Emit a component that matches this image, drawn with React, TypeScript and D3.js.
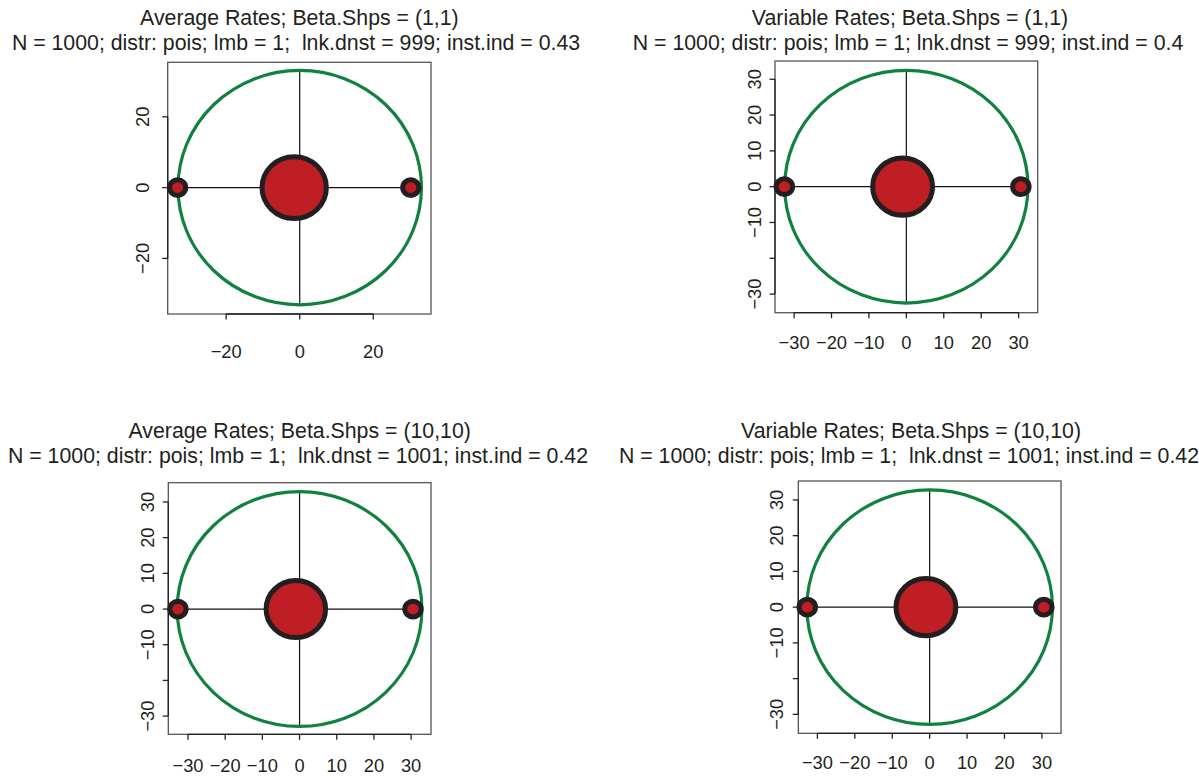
import React, { useEffect, useRef } from 'react'
import * as d3 from 'd3'

// chart values, one entry per panel (TL, TR, BL, BR)
const titles = [
  'Average Rates; Beta.Shps = (1,1)',
  'Variable Rates; Beta.Shps = (1,1)',
  'Average Rates; Beta.Shps = (10,10)',
  'Variable Rates; Beta.Shps = (10,10)',
]
const subtitles = [
  'N = 1000; distr: pois; lmb = 1;  lnk.dnst = 999; inst.ind = 0.43',
  'N = 1000; distr: pois; lmb = 1; lnk.dnst = 999; inst.ind = 0.4',
  'N = 1000; distr: pois; lmb = 1;  lnk.dnst = 1001; inst.ind = 0.42',
  'N = 1000; distr: pois; lmb = 1;  lnk.dnst = 1001; inst.ind = 0.42',
]
const ringRadius = [33.1, 32.5, 32.9, 32.8]
const centerX = [-1.5, -1.0, -1.0, -1.0]
const centerRadius = [8.75, 8.0, 8.0, 8.0]
const leftX = [-33.2, -32.6, -32.7, -32.7]
const rightX = [30.2, 30.6, 30.5, 30.5]
const pointRadius = [2.2, 2.2, 2.2, 2.2]
const ticksCoarse = [-20, 0, 20]
const ticksFine = [-30, -20, -10, 0, 10, 20, 30]
const yLabelSkip = [-20]

// where each panel sits on the page
const panels = [
  { box: [167.7, 62.3, 431, 314], xd: [-35.9, 35.7], yd: [-35.7, 35.4], tx: [299.4, 296], ty: [25, 50], ylab: 25, xlab: 37.7, coarse: true },
  { box: [775, 61, 1037.7, 312.7], xd: [-35.1, 35.1], yd: [-35.2, 35.1], tx: [910, 908], ty: [25, 50], ylab: 20.5, xlab: 30, coarse: false },
  { box: [168.3, 482.7, 431, 734.3], xd: [-35.3, 35.35], yd: [-35.1, 35.4], tx: [299.7, 298], ty: [438, 463], ylab: 20.5, xlab: 30.7, coarse: false },
  { box: [798.3, 481, 1061, 733.3], xd: [-35.1, 35.1], yd: [-35.3, 35.3], tx: [911, 909], ty: [438, 463], ylab: 21.5, xlab: 29.4, coarse: false },
]

const FONT = '"Liberation Sans", Arial, Helvetica, sans-serif'
const TXT = '#231F20'
const TITLE_SIZE = 21.3
const TICK_SIZE = 18.3

const fmt = (d: number) => (d < 0 ? '\u2212' + Math.abs(d) : String(d))

export default function App() {
  const ref = useRef<SVGSVGElement>(null)

  useEffect(() => {
    const svg = d3.select(ref.current)
    svg.selectAll('*').remove()

    panels.forEach((p, i) => {
      const [x0, y0, x1, y1] = p.box
      const x = d3.scaleLinear().domain(p.xd).range([x0, x1])
      const y = d3.scaleLinear().domain(p.yd).range([y1, y0])
      const g = svg.append('g')
      const ticks = p.coarse ? ticksCoarse : ticksFine

      // titles
      g.append('text').attr('x', p.tx[0]).attr('y', p.ty[0])
        .attr('text-anchor', 'middle').attr('font-size', TITLE_SIZE).attr('fill', TXT).text(titles[i])
      g.append('text').attr('x', p.tx[1]).attr('y', p.ty[1])
        .attr('text-anchor', 'middle').attr('font-size', TITLE_SIZE).attr('fill', TXT)
        .style('white-space', 'pre').text(subtitles[i])

      // box
      g.append('rect').attr('x', x0).attr('y', y0).attr('width', x1 - x0).attr('height', y1 - y0)
        .attr('fill', 'none').attr('stroke', '#555').attr('stroke-width', 1.3)

      // x axis
      const xa = g.append('g')
      xa.append('line').attr('x1', x(ticks[0])).attr('x2', x(ticks[ticks.length - 1]))
        .attr('y1', y1).attr('y2', y1).attr('stroke', '#222').attr('stroke-width', 1.3)
      xa.selectAll('.tk').data(ticks).enter().append('line')
        .attr('x1', d => x(d)).attr('x2', d => x(d)).attr('y1', y1).attr('y2', y1 + 5.5)
        .attr('stroke', '#222').attr('stroke-width', 1.3)
      xa.selectAll('.lb').data(ticks).enter().append('text')
        .attr('x', d => x(d)).attr('y', y1 + p.xlab).attr('dy', '0.36em')
        .attr('text-anchor', 'middle').attr('font-size', TICK_SIZE).attr('fill', TXT)
        .text(fmt)

      // y axis
      const ya = g.append('g')
      ya.append('line').attr('y1', y(ticks[0])).attr('y2', y(ticks[ticks.length - 1]))
        .attr('x1', x0).attr('x2', x0).attr('stroke', '#222').attr('stroke-width', 1.3)
      ya.selectAll('.tk').data(ticks).enter().append('line')
        .attr('y1', d => y(d)).attr('y2', d => y(d)).attr('x1', x0).attr('x2', x0 - 5.5)
        .attr('stroke', '#222').attr('stroke-width', 1.3)
      ya.selectAll('.lb').data(ticks.filter(t => p.coarse || !yLabelSkip.includes(t))).enter().append('text')
        .attr('transform', d => `translate(${x0 - p.ylab},${y(d)}) rotate(-90)`)
        .attr('dy', '0.36em').attr('text-anchor', 'middle').attr('font-size', TICK_SIZE).attr('fill', TXT)
        .text(fmt)

      // cross lines
      g.append('line').attr('x1', x(0)).attr('x2', x(0))
        .attr('y1', y(ringRadius[i])).attr('y2', y(-ringRadius[i]))
        .attr('stroke', '#111').attr('stroke-width', 1.2)
      g.append('line').attr('x1', x(leftX[i])).attr('x2', x(rightX[i]))
        .attr('y1', y(0)).attr('y2', y(0))
        .attr('stroke', '#111').attr('stroke-width', 1.2)

      // ring
      g.append('ellipse').attr('cx', x(0)).attr('cy', y(0))
        .attr('rx', x(ringRadius[i]) - x(0)).attr('ry', y(0) - y(ringRadius[i]))
        .attr('fill', 'none').attr('stroke', '#10813F').attr('stroke-width', 3.2)

      // points
      const pts = [
        { cx: centerX[i], r: centerRadius[i] },
        { cx: leftX[i], r: pointRadius[i] },
        { cx: rightX[i], r: pointRadius[i] },
      ]
      g.selectAll('.pt').data(pts).enter().append('ellipse')
        .attr('cx', d => x(d.cx)).attr('cy', y(0))
        .attr('rx', d => x(d.cx + d.r) - x(d.cx)).attr('ry', d => y(0) - y(d.r))
        .attr('fill', '#BE1E24').attr('stroke', '#231F20').attr('stroke-width', 5)
    })
  }, [])

  return (
    <svg ref={ref} width={1199} height={776}
      style={{ position: 'absolute', left: 0, top: 0, background: '#fff', fontFamily: FONT }} />
  )
}
